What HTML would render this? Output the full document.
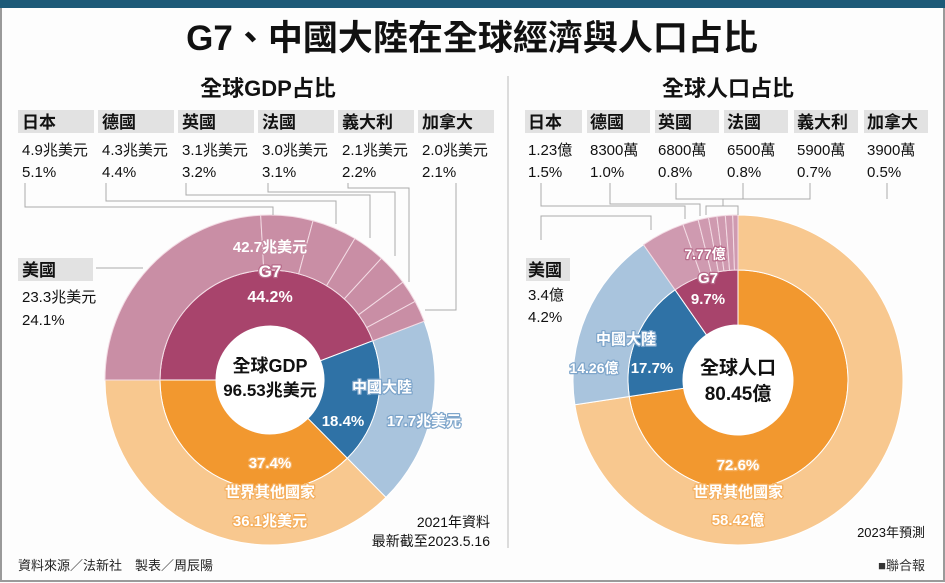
<!DOCTYPE html>
<html><head><meta charset="utf-8"><style>
body{margin:0;background:#fff;}
#wrap{position:relative;width:945px;height:583px;overflow:hidden;background:#fdfdfd;font-family:"Liberation Sans","Noto Sans CJK TC",sans-serif;}
</style></head><body>
<div id="wrap">
<svg id="svg" width="945" height="583" xmlns="http://www.w3.org/2000/svg"></svg>
</div>
<script>
// GDP data
const gdpGroups = ["G7", "中國大陸", "世界其他國家"];
const gdpGroupPct = [44.2, 18.4, 37.4];
const gdpG7Countries = ["美國", "日本", "德國", "英國", "法國", "義大利", "加拿大"];
const gdpG7Pct = [24.1, 5.1, 4.4, 3.2, 3.1, 2.2, 2.1];
const gdpG7Val = ["23.3", "4.9", "4.3", "3.1", "3.0", "2.1", "2.0"];
// Population data
const popGroups = ["世界其他國家", "中國大陸", "G7"];
const popGroupPct = [72.6, 17.7, 9.7];
const popG7Countries = ["美國", "日本", "德國", "英國", "法國", "義大利", "加拿大"];
const popG7Pct = [4.2, 1.5, 1.0, 0.8, 0.8, 0.7, 0.5];
const popG7Val = ["3.4億", "1.23億", "8300萬", "6800萬", "6500萬", "5900萬", "3900萬"];

const NS = "http://www.w3.org/2000/svg";
const svg = document.getElementById('svg');
function mk(tag, attrs, parent, text){
  const e = document.createElementNS(NS, tag);
  for (const k in attrs) e.setAttribute(k, attrs[k]);
  if (text !== undefined) e.textContent = text;
  (parent || svg).appendChild(e);
  return e;
}
function pt(cx, cy, r, a){ const t = (a - 90) * Math.PI / 180; return [cx + r * Math.cos(t), cy + r * Math.sin(t)]; }
function arc(cx, cy, r0, r1, a0, a1){
  if (a1 < a0) { const t = a0; a0 = a1; a1 = t; }
  const large = (a1 - a0) > 180 ? 1 : 0;
  const p1 = pt(cx, cy, r1, a0), p2 = pt(cx, cy, r1, a1), p3 = pt(cx, cy, r0, a1), p4 = pt(cx, cy, r0, a0);
  return `M${p1[0]},${p1[1]} A${r1},${r1} 0 ${large} 1 ${p2[0]},${p2[1]} L${p3[0]},${p3[1]} A${r0},${r0} 0 ${large} 0 ${p4[0]},${p4[1]} Z`;
}
function txt(x, y, s, size, fill, weight, anchor, name, stroke){
  const at = {x:x, y:y, 'font-size':size, fill:fill, 'font-weight':weight||'normal', 'text-anchor':anchor||'start'};
  if (stroke) { at.stroke = stroke; at['stroke-width'] = 2.5; at['paint-order'] = 'stroke'; at['stroke-linejoin'] = 'round'; }
  const t = mk('text', at, svg, s);
  
  
  return t;
}

let r = mk('rect', {x:1, y:1, width:943, height:580, fill:'none', stroke:'#9a9a9a', 'stroke-width':2});


r = mk('rect', {x:0, y:0, width:945, height:8, fill:'#1d5a78'});


txt(472, 50, "G7、中國大陸在全球經濟與人口占比", 35, '#111', 'bold', 'middle', 'main-title');
txt(268, 96, "全球GDP占比", 22, '#111', 'bold', 'middle', 'gdp-title');
txt(728, 96, "全球人口占比", 22, '#111', 'bold', 'middle', 'population-title');
let ln = mk('line', {x1:508, y1:76, x2:508, y2:548, stroke:'#bbb', 'stroke-width':1});



const colG7 = ['#a8446c', '#c98ea5'], colCN = ['#2f72a6', '#a9c4dd'], colRest = ['#f2982f', '#f8c88f'];

// ---------- GDP donut ----------
const gcx = 270, gcy = 380, R0 = 54, R1 = 110, R2 = 165;
{
  const cols = [colG7, colCN, colRest];
  let a = 270;
  const bounds = [];
  gdpGroupPct.forEach((p, i) => {
    const a1 = a + p * 3.6;
    bounds.push([a, a1]);
    let s = mk('path', {d:arc(gcx, gcy, R0, R1, a, a1), fill:cols[i][0], stroke:'#fff', 'stroke-width':1});
    
    
    if (i > 0) {
      s = mk('path', {d:arc(gcx, gcy, R1, R2, a, a1), fill:cols[i][1], stroke:'#fff', 'stroke-width':1});
      
      
    }
    a = a1;
  });
  const tot = gdpG7Pct.reduce((x, y) => x + y, 0);
  let b = bounds[0][0];
  const span = bounds[0][1] - bounds[0][0];
  gdpG7Pct.forEach((p, i) => {
    const b1 = b + p / tot * span;
    const s = mk('path', {d:arc(gcx, gcy, R1, R2, b, b1), fill:colG7[1], stroke:'#f3dbe4', 'stroke-width':1});
    
    
    b = b1;
  });
}
{
  const paths = [
    "M25,183 V207 H273 V215", "M106,183 V201 H336 V224", "M186,183 V195 H370 V238",
    "M268,183 V192 H395 V256", "M348,183 V188 H409 V282", "M456,183 V310 H425 V310",
    "M96,268 H143"
  ];
  paths.forEach((d, i) => {
    const p = mk('path', {d:d, fill:'none', stroke:'#aaa', 'stroke-width':1});
    
    
  });
}
txt(270, 252, "42.7兆美元", 15, '#fff', 'bold', 'middle', 'g7-gdp-value', '#c98ea5');
txt(270, 277, "G7", 17, '#fff', 'bold', 'middle', 'g7-label', '#b76a8a');
txt(270, 302, "44.2%", 16, '#fff', 'bold', 'middle', 'g7-gdp-pct');
let c = mk('circle', {cx:gcx, cy:gcy, r:R0, fill:'#fff'});


txt(270, 372, "全球GDP", 18, '#111', 'bold', 'middle', 'gdp-center-title');
txt(270, 396, "96.53兆美元", 17, '#111', 'bold', 'middle', 'gdp-center-value');
txt(382, 392, "中國大陸", 15, '#fff', 'bold', 'middle', 'china-gdp-label', '#7fa6cb');
txt(343, 426, "18.4%", 15, '#fff', 'bold', 'middle', 'china-gdp-pct');
txt(424, 426, "17.7兆美元", 15, '#fff', 'bold', 'middle', 'china-gdp-value', '#7fa6cb');
txt(270, 468, "37.4%", 15, '#fff', 'bold', 'middle', 'rest-gdp-pct', '#f5b060');
txt(270, 497, "世界其他國家", 15, '#fff', 'bold', 'middle', 'rest-gdp-label', '#f5b060');
txt(270, 526, "36.1兆美元", 15, '#fff', 'bold', 'middle', 'rest-gdp-value', '#f5b060');
txt(490, 527, "2021年資料", 14, '#111', 'normal', 'end', 'gdp-note-year');
txt(490, 546, "最新截至2023.5.16", 14, '#111', 'normal', 'end', 'gdp-note-date');

gdpG7Countries.forEach((n, i) => {
  if (i === 0) return;
  const x = 18 + (i - 1) * 80;
  const rc = mk('rect', {x:x, y:110, width:76, height:23, fill:'#e2e2e2'});
  
  
  txt(x + 4, 128, n, 17, '#111', 'bold', 'start', 'gdp-country-name');
  txt(x + 4, 155, gdpG7Val[i] + "兆美元", 15, '#111', 'normal', 'start', 'gdp-country-value');
  txt(x + 4, 177, gdpG7Pct[i].toFixed(1) + "%", 15, '#111', 'normal', 'start', 'gdp-country-pct');
});
{
  const rc = mk('rect', {x:18, y:258, width:75, height:23, fill:'#e2e2e2'});
  
  
  txt(22, 276, gdpG7Countries[0], 17, '#111', 'bold', 'start', 'us-gdp-name');
  txt(22, 302, gdpG7Val[0] + "兆美元", 15, '#111', 'normal', 'start', 'us-gdp-value');
  txt(22, 325, gdpG7Pct[0].toFixed(1) + "%", 15, '#111', 'normal', 'start', 'us-gdp-pct');
}

// ---------- Population donut ----------
const pcx = 738, pcy = 380, P0 = 55, P1 = 110, P2 = 165;
{
  const cols = [colRest, colCN, colG7];
  let a = 0;
  let g7b = null;
  popGroupPct.forEach((p, i) => {
    const a1 = a + p * 3.6;
    let s = mk('path', {d:arc(pcx, pcy, P0, P1, a, a1), fill:cols[i][0], stroke:'#fff', 'stroke-width':1});
    
    
    if (i < 2) {
      s = mk('path', {d:arc(pcx, pcy, P1, P2, a, a1), fill:cols[i][1], stroke:'#fff', 'stroke-width':1});
      
      
    } else g7b = [a, a1];
    a = a1;
  });
  const tot = popG7Pct.reduce((x, y) => x + y, 0);
  const span = g7b[1] - g7b[0];
  let b = g7b[0];
  popG7Pct.forEach((p, i) => {
    const b1 = b + p / tot * span;
    const s = mk('path', {d:arc(pcx, pcy, P1, P2, b, b1), fill:'#cf9ab0', stroke:'#f3dbe4', 'stroke-width':1});
    
    
    b = b1;
  });
}
{
  const paths = [
    "M541,183 V206 H685 V219", "M610,183 V204 H700 V216", "M676,183 V199 H810 V183",
    "M743,183 V199", "M887,183 V199", "M723,199 V206 H706 V215", "M723,206 H738 V215",
    "M541,240 V216 H651 V230"
  ];
  paths.forEach(d => {
    const p = mk('path', {d:d, fill:'none', stroke:'#aaa', 'stroke-width':1});
    
    
  });
}
txt(705, 259, "7.77億", 14, '#fff', 'bold', 'middle', 'g7-pop-value', '#b76a8a');
txt(708, 283, "G7", 15, '#fff', 'bold', 'middle', 'g7-pop-label', '#b76a8a');
txt(708, 304, "9.7%", 15, '#fff', 'bold', 'middle', 'g7-pop-pct');
c = mk('circle', {cx:pcx, cy:pcy, r:P0, fill:'#fff'});


txt(738, 374, "全球人口", 19, '#111', 'bold', 'middle', 'pop-center-title');
txt(738, 400, "80.45億", 19, '#111', 'bold', 'middle', 'pop-center-value');
txt(626, 344, "中國大陸", 15, '#fff', 'bold', 'middle', 'china-pop-label', '#7fa6cb');
txt(594, 373, "14.26億", 14, '#fff', 'bold', 'middle', 'china-pop-value', '#7fa6cb');
txt(652, 373, "17.7%", 15, '#fff', 'bold', 'middle', 'china-pop-pct');
txt(738, 470, "72.6%", 15, '#fff', 'bold', 'middle', 'rest-pop-pct', '#f5b060');
txt(738, 497, "世界其他國家", 15, '#fff', 'bold', 'middle', 'rest-pop-label', '#f5b060');
txt(738, 525, "58.42億", 15, '#fff', 'bold', 'middle', 'rest-pop-value', '#f5b060');
txt(925, 537, "2023年預測", 13, '#111', 'normal', 'end', 'pop-note');

const popBoxX = [525, 587, 655, 724, 794, 864];
const popBoxW = [57, 63, 64, 64, 64, 64];
popG7Countries.forEach((n, i) => {
  if (i === 0) return;
  const x = popBoxX[i - 1];
  const rc = mk('rect', {x:x, y:110, width:popBoxW[i - 1], height:23, fill:'#e2e2e2'});
  
  
  txt(x + 3, 128, n, 17, '#111', 'bold', 'start', 'pop-country-name');
  txt(x + 3, 155, popG7Val[i], 15, '#111', 'normal', 'start', 'pop-country-value');
  txt(x + 3, 177, popG7Pct[i].toFixed(1) + "%", 15, '#111', 'normal', 'start', 'pop-country-pct');
});
{
  const rc = mk('rect', {x:526, y:258, width:44, height:23, fill:'#e2e2e2'});
  
  
  txt(528, 276, popG7Countries[0], 17, '#111', 'bold', 'start', 'us-pop-name');
  txt(528, 300, popG7Val[0], 15, '#111', 'normal', 'start', 'us-pop-value');
  txt(528, 322, popG7Pct[0].toFixed(1) + "%", 15, '#111', 'normal', 'start', 'us-pop-pct');
}

txt(18, 570, "資料來源／法新社　製表／周辰陽", 13, '#222', 'normal', 'start', 'source-note');
txt(925, 570, "■聯合報", 13, '#333', 'normal', 'end', 'publisher');
</script>
</body></html>
